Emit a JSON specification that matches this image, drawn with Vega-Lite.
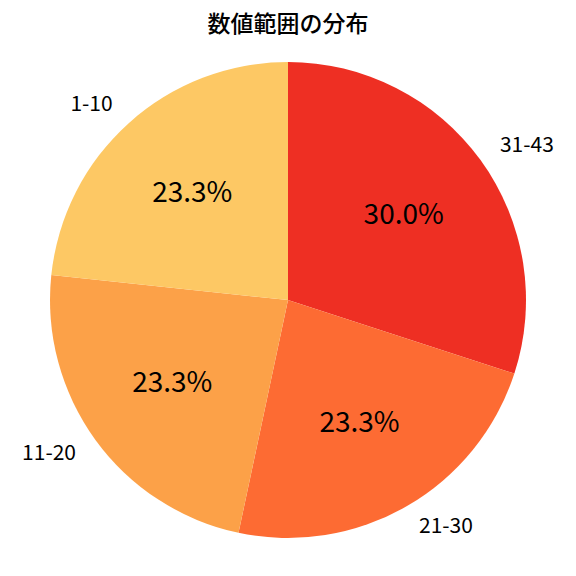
{
  "$schema": "https://vega.github.io/schema/vega-lite/v6.json",
  "width": 576,
  "height": 552,
  "autosize": "none",
  "padding": {"top": 24, "left": 0, "right": 0, "bottom": 0},
  "background": "white",
  "title": {
    "text": "数値範囲の分布",
    "font": "Noto Sans CJK JP",
    "fontSize": 23,
    "fontWeight": 500,
    "color": "black",
    "anchor": "middle",
    "offset": -13
  },
  "config": {"view": {"stroke": null}},
  "data": {
    "values": [
      {"category": "31-43", "count": 9, "pct": "30.0%"},
      {"category": "21-30", "count": 7, "pct": "23.3%"},
      {"category": "11-20", "count": 7, "pct": "23.3%"},
      {"category": "1-10", "count": 7, "pct": "23.3%"}
    ]
  },
  "encoding": {
    "theta": {"field": "count", "type": "quantitative", "stack": true},
    "order": {"field": "category", "sort": "descending"}
  },
  "layer": [
    {
      "mark": {"type": "arc", "outerRadius": 238},
      "encoding": {
        "color": {
          "field": "category",
          "type": "nominal",
          "scale": {
            "domain": ["31-43", "21-30", "11-20", "1-10"],
            "range": ["#EE2F23", "#FD6B33", "#FCA148", "#FDC864"]
          },
          "legend": null
        }
      }
    },
    {
      "mark": {"type": "text", "radius": 143, "font": "Noto Sans CJK JP", "fontSize": 28, "color": "black", "align": "center", "baseline": "middle"},
      "encoding": {"text": {"field": "pct", "type": "nominal"}}
    },
    {
      "mark": {"type": "text", "radius": 262, "font": "Noto Sans CJK JP", "fontSize": 21, "color": "black", "align": "left", "baseline": "middle"},
      "encoding": {
        "text": {
          "condition": {"test": "datum.category == '31-43' || datum.category == '21-30'", "field": "category", "type": "nominal"},
          "value": ""
        }
      }
    },
    {
      "mark": {"type": "text", "radius": 262, "font": "Noto Sans CJK JP", "fontSize": 21, "color": "black", "align": "right", "baseline": "middle"},
      "encoding": {
        "text": {
          "condition": {"test": "datum.category == '11-20' || datum.category == '1-10'", "field": "category", "type": "nominal"},
          "value": ""
        }
      }
    }
  ]
}
